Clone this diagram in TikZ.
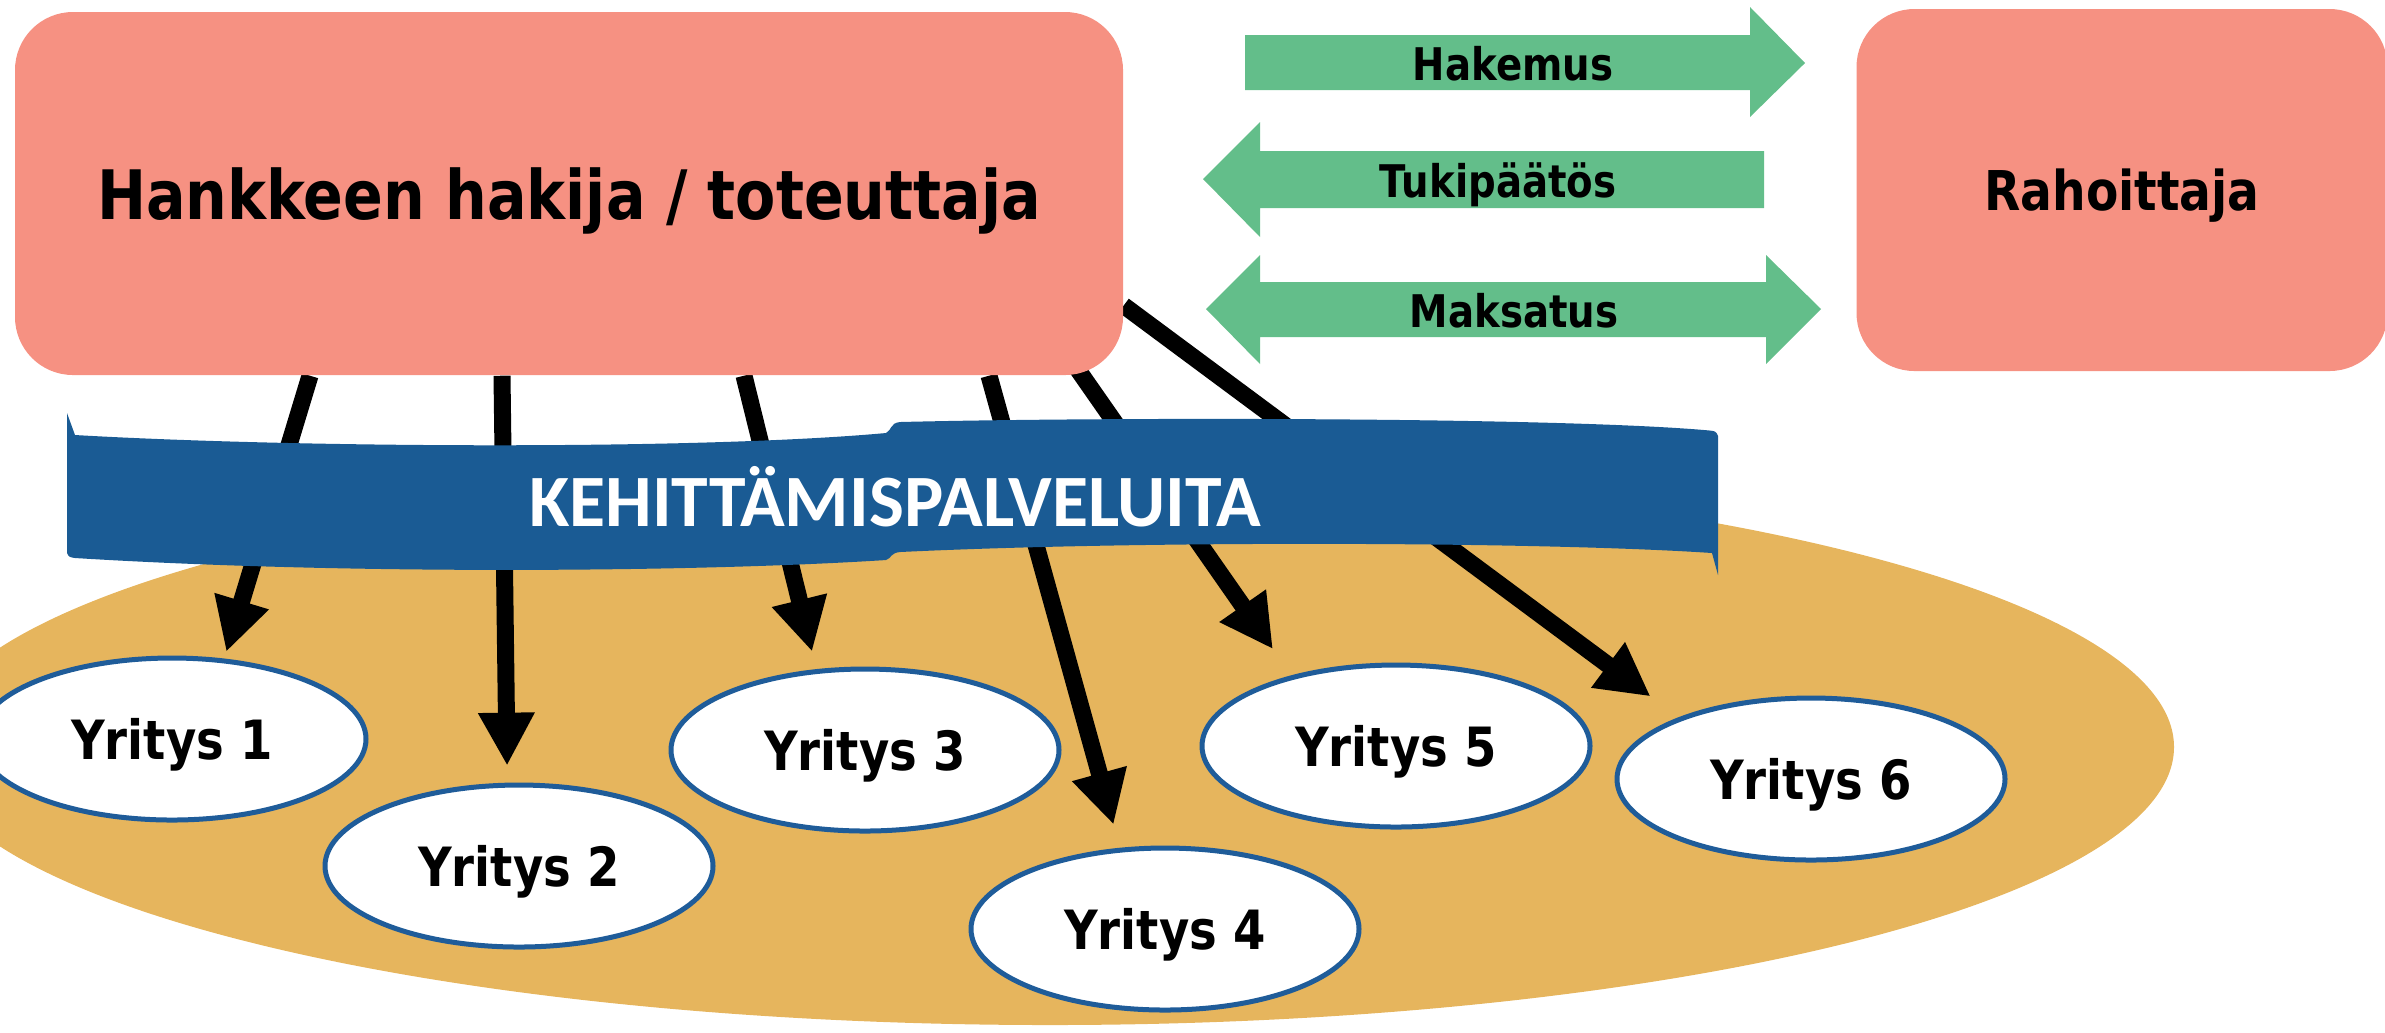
\documentclass[tikz,border=0pt]{standalone}
\usepackage{fontspec}
\usepackage{xcolor}
\usetikzlibrary{arrows.meta,shapes.geometric}

\newfontfamily\caixafont[FakeStretch=0.86]{DejaVu Sans}
\newfontfamily\faixafont{Carlito}

\definecolor{salmao}{RGB}{246,145,130}
\definecolor{verde}{RGB}{99,190,138}
\definecolor{laranja}{RGB}{230,181,93}
\definecolor{azulfaixa}{RGB}{26,91,148}
\definecolor{azulborda}{RGB}{31,92,153}

\pgfdeclarelayer{fundo}
\pgfdeclarelayer{setas}
\pgfsetlayers{fundo,setas,main}

\begin{document}
\begin{tikzpicture}[scale=1.0,
    caixa/.style={fill=salmao, rounded corners=0.58cm, inner sep=0pt, text depth=0pt},
    empresa/.style={ellipse, draw=azulborda, line width=0.05cm, fill=white,
        minimum width=3.88cm, minimum height=1.62cm, inner sep=0pt, text depth=0pt,
        font=\caixafont\bfseries\fontsize{15.4}{18}\selectfont},
    seta/.style={line width=0.17cm, -{Triangle[length=0.53cm,width=0.53cm]}},
    bloco/.style={fill=verde},
    rotulo/.style={inner sep=0pt, text depth=0pt, font=\caixafont\bfseries\fontsize{12.8}{15}\selectfont}]
    \useasboundingbox (0,0) rectangle (23.85,-10.32);

    % Fundo - grupo de empresas (ELIPSE laranja)
    \begin{pgfonlayer}{fundo}
        \fill[laranja] (10.50,-7.47) ellipse [x radius=11.24, y radius=2.78];
    \end{pgfonlayer}

    % Caixa 1 - hakija / toteuttaja (RETÂNGULO salmão)
    \node[caixa, minimum width=11.08cm, minimum height=3.63cm,
        font=\caixafont\bfseries\fontsize{19.4}{23}\selectfont] (hakija) at (5.69,-1.935) {Hankkeen hakija / toteuttaja};

    % Caixa 2 - rahoittaja (RETÂNGULO salmão)
    \node[caixa, minimum width=5.31cm, minimum height=3.62cm,
        font=\caixafont\bfseries\fontsize{15.6}{18}\selectfont] (rahoittaja) at (21.22,-1.90) {Rahoittaja};

    % Empresas 1 a 6 (ELIPSES brancas)
    \node[empresa] (y1) at (1.72,-7.39) {Yritys 1};
    \node[empresa] (y2) at (5.19,-8.66) {Yritys 2};
    \node[empresa] (y3) at (8.65,-7.50) {Yritys 3};
    \node[empresa] (y4) at (11.65,-9.29) {Yritys 4};
    \node[empresa] (y5) at (13.96,-7.46) {Yritys 5};
    \node[empresa] (y6) at (18.11,-7.79) {Yritys 6};

    % Setas pretas - da caixa para as empresas
    \begin{pgfonlayer}{setas}
        \draw[seta, shorten >=0.07cm] ([xshift=-2.59cm]hakija.south) -- (y1.57);
        \draw[seta, shorten >=0.17cm] ([xshift=-0.67cm]hakija.south) -- (y2.98);
        \draw[seta, shorten >=0.18cm] ([xshift=1.75cm]hakija.south) -- (y3.121);
        \draw[seta, shorten >=0.24cm] ([xshift=4.20cm]hakija.south) -- (y4.119);
        \draw[seta, shorten >=0.32cm] ([xshift=4.88cm,yshift=0.36cm]hakija.south) -- (y5.146);
        \draw[seta, shorten >=0.35cm] ([yshift=-1.12cm]hakija.east) -- (y6.155);
    \end{pgfonlayer}

    % Faixa azul - KEHITTÄMISPALVELUITA
    \fill[azulfaixa] (0.67,-4.13) -- (0.67,-5.53)
        .. controls (0.69,-5.57) .. (0.75,-5.58)
        .. controls (3.5,-5.75) and (7.0,-5.72) .. (8.86,-5.60)
        .. controls (8.92,-5.58) and (8.90,-5.53) .. (9.00,-5.52)
        .. controls (11.5,-5.40) and (15.5,-5.42) .. (17.12,-5.53)
        -- (17.18,-5.75) -- (17.18,-4.36)
        .. controls (17.16,-4.31) .. (17.04,-4.30)
        .. controls (15.5,-4.17) and (11.0,-4.17) .. (9.00,-4.22)
        .. controls (8.90,-4.23) and (8.92,-4.30) .. (8.86,-4.33)
        .. controls (7.0,-4.50) and (3.0,-4.48) .. (0.75,-4.35) -- cycle;
    \node[inner sep=0pt, text depth=0pt, text=white,
        font=\faixafont\bfseries\fontsize{21}{25}\selectfont] (faixa) at (8.95,-4.96) {KEHITTÄMISPALVELUITA};

    % Linha 1 - Hakemus (SETA verde para a direita)
    \fill[bloco] (12.45,-0.35) -- (17.50,-0.35) -- (17.50,-0.07) -- (18.05,-0.63)
        -- (17.50,-1.17) -- (17.50,-0.90) -- (12.45,-0.90) -- cycle;
    \node[rotulo] (hakemus) at (15.13,-0.63) {Hakemus};

    % Linha 2 - Tukipäätös (SETA verde para a esquerda)
    \fill[bloco] (17.64,-1.51) -- (12.60,-1.51) -- (12.60,-1.22) -- (12.03,-1.79)
        -- (12.60,-2.37) -- (12.60,-2.08) -- (17.64,-2.08) -- cycle;
    \node[rotulo] (tukipaatos) at (14.98,-1.80) {Tukipäätös};

    % Linha 3 - Maksatus (SETA verde dupla)
    \fill[bloco] (12.06,-3.09) -- (12.60,-2.55) -- (12.60,-2.82) -- (17.66,-2.82) -- (17.66,-2.55)
        -- (18.21,-3.09) -- (17.66,-3.64) -- (17.66,-3.37) -- (12.60,-3.37) -- (12.60,-3.64) -- cycle;
    \node[rotulo] (maksatus) at (15.14,-3.10) {Maksatus};
\end{tikzpicture}
\end{document}
